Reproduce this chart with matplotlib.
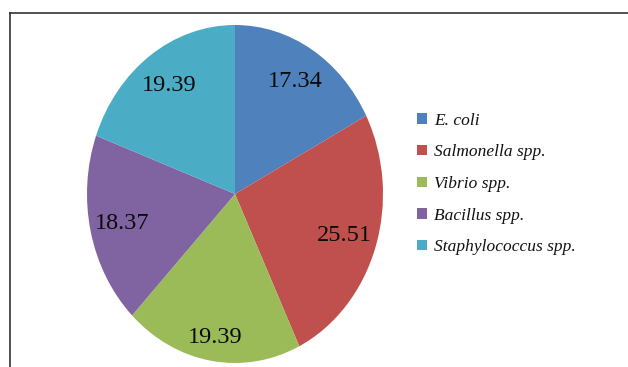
import matplotlib.pyplot as plt
from matplotlib.lines import Line2D

# percentage of isolates by organism
organisms = ["E. coli", "Salmonella spp.", "Vibrio spp.", "Bacillus spp.",
             "Staphylococcus spp."]
percent = [17.34, 25.51, 19.39, 18.37, 19.39]
colors = ["#4F81BD", "#C0504D", "#9BBB59", "#8064A2", "#4BACC6"]

W, H = 628, 367
fig = plt.figure(figsize=(W / 100, H / 100), dpi=100)
fig.patch.set_facecolor("white")

# pie area in pixels: left 87, right 383, top 25, bottom 363
ax = fig.add_axes([87 / W, 1 - 363 / H, 296 / W, 338 / H])
wedges, texts, autotexts = ax.pie(
    percent, colors=colors, startangle=90, counterclock=False,
    autopct="%.2f", pctdistance=0.78, radius=1.0,
    wedgeprops=dict(linewidth=0),
    textprops=dict(family="Liberation Serif", fontsize=17.5, color="#0a0a0a"),
)
ax.set_aspect("auto")
ax.set_xlim(-1, 1)
ax.set_ylim(-1, 1)

# bottom label sits further out
x, y = autotexts[2].get_position()
autotexts[2].set_position((x * 0.86 / 0.78, y * 0.86 / 0.78))

fig.legend(wedges, organisms, loc="center left",
           bbox_to_anchor=(417 / W, 1 - 184 / H), frameon=False,
           prop=dict(family="Liberation Serif", style="italic", size=12.5),
           labelcolor="#111111",
           handlelength=0.55, handleheight=0.55, handletextpad=0.45,
           labelspacing=0.9, borderpad=0, borderaxespad=0)

# outer frame (top and left edges)
fig.add_artist(Line2D([10 / W, 1.0], [1 - 13 / H, 1 - 13 / H],
                      transform=fig.transFigure, color="#333333", lw=1.2))
fig.add_artist(Line2D([10 / W, 10 / W], [1 - 13 / H, 0.0],
                      transform=fig.transFigure, color="#333333", lw=1.2))

fig.savefig("out.png", dpi=100)
